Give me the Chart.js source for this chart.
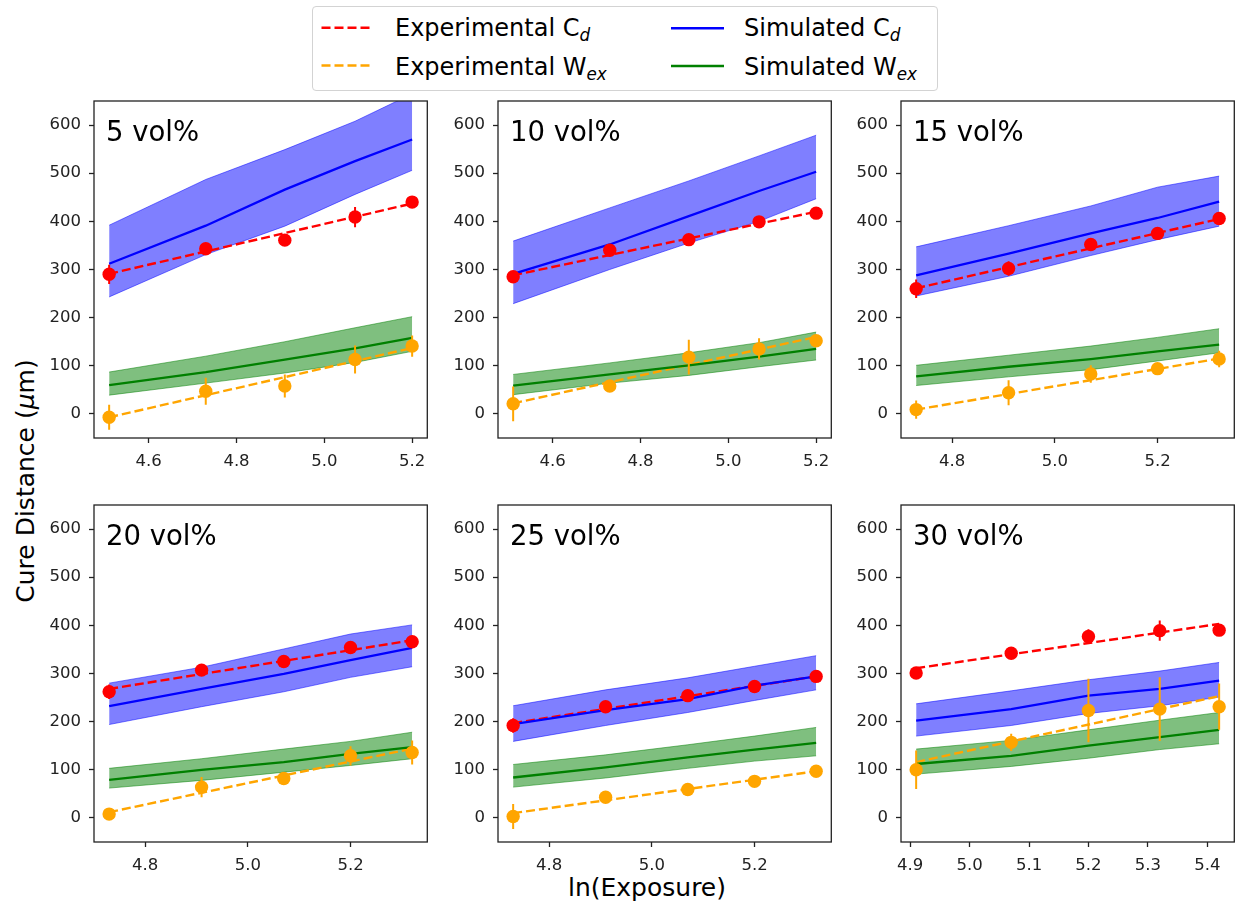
<!DOCTYPE html>
<html>
<head>
<meta charset="utf-8">
<title>Cure distance vs ln(Exposure)</title>
<script src="https://cdn.jsdelivr.net/npm/chart.js@4.4.1/dist/chart.umd.min.js"></script>
<style>
  html, body { margin: 0; padding: 0; background: #fff; overflow: hidden; }
  body { width: 1238px; height: 906px; position: relative; font-family: "DejaVu Sans", sans-serif; color: #000; }
  canvas { position: absolute; }
  .legend-box { position: absolute; left: 312px; top: 6px; width: 626px; height: 85px; box-sizing: border-box;
                border: 1px solid #d3d3d3; border-radius: 4px; background: #fff; }
  .lg-text { position: absolute; font-size: 24px; line-height: 24px; white-space: nowrap; }
  .lg-text sub { font-size: 70%; font-style: italic; vertical-align: -4.5px; line-height: 0; }
  svg.lg-line { position: absolute; left: 0; top: 0; overflow: visible; }
  .axis-title { position: absolute; font-size: 25px; line-height: 25px; white-space: nowrap; }
</style>
</head>
<body>

<div class="legend-box"></div>
<svg class="lg-line" width="1238" height="100">
  <line x1="321.5" y1="27.7" x2="371" y2="27.7" stroke="#ff0000" stroke-width="2.4" stroke-dasharray="9 4"/>
  <line x1="321.5" y1="65.5" x2="371" y2="65.5" stroke="#ffa500" stroke-width="2.4" stroke-dasharray="9 4"/>
  <line x1="671" y1="28.3" x2="724" y2="28.3" stroke="#0000ff" stroke-width="2.4"/>
  <line x1="671" y1="66" x2="724" y2="66" stroke="#008000" stroke-width="2.4"/>
</svg>
<div class="lg-text" style="left:395px; top:16.4px;">Experimental C<sub>d</sub></div>
<div class="lg-text" style="left:395px; top:54.7px;">Experimental W<sub>ex</sub></div>
<div class="lg-text" style="left:744px; top:16.4px;">Simulated C<sub>d</sub></div>
<div class="lg-text" style="left:744px; top:54.7px;">Simulated W<sub>ex</sub></div>

<div class="axis-title" style="left:24.5px; top:481px; transform: translate(-50%, -50%) rotate(-90deg);">Cure Distance (<i>μ</i>m)</div>
<div class="axis-title" style="left:647px; top:874.8px; transform: translateX(-50%);">ln(Exposure)</div>

<script>
// ---- data: one entry per panel (5, 10, 15, 20, 25, 30 vol%) ----
const panelLabels = ['5 vol%', '10 vol%', '15 vol%', '20 vol%', '25 vol%', '30 vol%'];

const lnExposure = [
  [4.51, 4.73, 4.91, 5.07, 5.20],
  [4.51, 4.73, 4.91, 5.07, 5.20],
  [4.73, 4.91, 5.07, 5.20, 5.32],
  [4.73, 4.91, 5.07, 5.20, 5.32],
  [4.73, 4.91, 5.07, 5.20, 5.32],
  [4.91, 5.07, 5.20, 5.32, 5.42]
];

// experimental cure depth C_d (µm) and its error
const cdExperimental = [
  [290, 343, 361, 409, 440],
  [285, 340, 362, 399, 417],
  [260, 302, 352, 375, 406],
  [262, 307, 325, 354, 366],
  [192, 231, 254, 273, 294],
  [301, 342, 377, 389, 390]
];
const cdExperimentalErr = [
  [20, 8, 8, 21, 8],
  [6, 6, 6, 6, 6],
  [19, 15, 6, 12, 6],
  [15, 6, 6, 6, 6],
  [15, 6, 6, 6, 6],
  [6, 6, 15, 21, 6]
];

// experimental excess width W_ex (µm) and its error
const wexExperimental = [
  [-7, 47, 58, 113, 141],
  [21, 58, 118, 135, 152],
  [9, 44, 83, 94, 114],
  [8, 64, 82, 129, 136],
  [3, 43, 59, 76, 97],
  [100, 157, 223, 226, 231]
];
const wexExperimentalErr = [
  [26, 28, 24, 29, 22],
  [36, 5, 36, 22, 5],
  [19, 26, 18, 12, 17],
  [5, 21, 5, 20, 25],
  [26, 12, 5, 5, 5],
  [40, 18, 66, 66, 48]
];

// dashed trend lines: value at the first and at the last exposure
const cdTrend  = [[291, 437], [288, 420], [261, 405], [268, 369], [197, 294], [311, 403]];
const wexTrend = [[-7, 137], [22, 160], [9, 115], [12, 144], [10, 97], [116, 253]];

// simulated C_d: mean with lower / upper bound
const cdSimulated = [
  [312, 391, 466, 525, 570],
  [291, 352, 411, 463, 503],
  [288, 333, 375, 407, 441],
  [232, 268, 299, 328, 353],
  [195, 224, 247, 275, 294],
  [202, 226, 254, 268, 285]
];
const cdSimulatedLow = [
  [243, 331, 390, 456, 506],
  [229, 300, 355, 400, 447],
  [245, 286, 329, 362, 390],
  [194, 231, 262, 292, 314],
  [159, 192, 219, 244, 266],
  [170, 192, 217, 233, 251]
];
const cdSimulatedHigh = [
  [392, 487, 549, 608, 665],
  [359, 428, 484, 536, 579],
  [347, 391, 432, 471, 494],
  [280, 313, 351, 382, 401],
  [233, 266, 291, 315, 337],
  [237, 264, 287, 305, 323]
];

// simulated W_ex: mean with lower / upper bound
const wexSimulated = [
  [60, 87, 113, 136, 158],
  [59, 82, 101, 119, 135],
  [78, 98, 114, 130, 144],
  [79, 100, 116, 133, 147],
  [84, 105, 126, 142, 156],
  [112, 129, 150, 168, 183]
];
const wexSimulatedLow = [
  [39, 64, 85, 107, 130],
  [40, 64, 80, 98, 112],
  [59, 77, 92, 110, 127],
  [62, 78, 95, 109, 123],
  [64, 83, 103, 118, 129],
  [91, 107, 124, 142, 154]
];
const wexSimulatedHigh = [
  [87, 120, 150, 179, 202],
  [82, 106, 127, 148, 170],
  [101, 122, 141, 159, 177],
  [103, 123, 143, 159, 178],
  [111, 131, 152, 170, 188],
  [143, 161, 183, 203, 219]
];

// axis ticks
const yTickValues = [0, 100, 200, 300, 400, 500, 600];
const yRange = [-50, 650];
const xTickValues = [
  [4.6, 4.8, 5.0, 5.2],
  [4.6, 4.8, 5.0, 5.2],
  [4.8, 5.0, 5.2],
  [4.8, 5.0, 5.2],
  [4.8, 5.0, 5.2],
  [4.9, 5.0, 5.1, 5.2, 5.3, 5.4]
];

// ---- layout ----
const PLOT_W = 336, PLOT_H = 337;
const AXIS_W = 60, AXIS_H = 45, PAD_T = 10, PAD_R = 4;
const panelOrigins = [[94, 101], [498, 101], [901, 101], [94, 505], [498, 505], [901, 505]];

const COLORS = {
  cdExp: '#ff0000', wexExp: '#ffa500',
  cdSim: '#0000ff', wexSim: '#008000',
  cdBand: 'rgba(0, 0, 255, 0.5)', wexBand: 'rgba(0, 128, 0, 0.5)'
};
const FONT = '"DejaVu Sans", sans-serif';
Chart.defaults.font.family = FONT;

const toPoints = (xs, ys) => xs.map((x, i) => ({ x: x, y: ys[i] }));
const errorSegments = (xs, ys, es) =>
  xs.flatMap((x, i) => [{ x: x, y: ys[i] - es[i] }, { x: x, y: ys[i] + es[i] }, { x: x, y: null }]);
const endPoints = (xs, ends) => [{ x: xs[0], y: ends[0] }, { x: xs[xs.length - 1], y: ends[1] }];

// frame around the plot area plus the panel label in the upper left corner
const panelFrame = {
  id: 'panelFrame',
  afterDatasetsDraw(chart, args, opts) {
    const a = chart.chartArea, ctx = chart.ctx;
    ctx.save();
    ctx.strokeStyle = '#222';
    ctx.lineWidth = 1.3;
    ctx.strokeRect(a.left, a.top, a.right - a.left, a.bottom - a.top);
    ctx.fillStyle = '#000';
    ctx.font = '27.5px ' + FONT;
    ctx.textBaseline = 'alphabetic';
    ctx.textAlign = 'left';
    ctx.fillText(opts.label, a.left + 12, a.top + 40);
    ctx.restore();
  }
};

function bandPair(xs, low, high, color) {
  return [
    { data: toPoints(xs, low), borderColor: color, borderWidth: 1, pointRadius: 0, fill: false, order: 10 },
    { data: toPoints(xs, high), borderColor: color, borderWidth: 1, pointRadius: 0,
      fill: '-1', backgroundColor: color, order: 10 }
  ];
}

function buildPanel(i) {
  const xs = lnExposure[i];
  const span = xs[xs.length - 1] - xs[0];
  const xMin = xs[0] - 0.05 * span, xMax = xs[xs.length - 1] + 0.05 * span;

  const canvas = document.createElement('canvas');
  canvas.width = AXIS_W + PLOT_W + PAD_R;
  canvas.height = PAD_T + PLOT_H + AXIS_H;
  canvas.style.left = (panelOrigins[i][0] - AXIS_W) + 'px';
  canvas.style.top = (panelOrigins[i][1] - PAD_T) + 'px';
  document.body.appendChild(canvas);

  const datasets = [
    ...bandPair(xs, cdSimulatedLow[i], cdSimulatedHigh[i], COLORS.cdBand),
    ...bandPair(xs, wexSimulatedLow[i], wexSimulatedHigh[i], COLORS.wexBand),
    { data: toPoints(xs, cdSimulated[i]), borderColor: COLORS.cdSim, borderWidth: 2.3, pointRadius: 0, fill: false, order: 5 },
    { data: toPoints(xs, wexSimulated[i]), borderColor: COLORS.wexSim, borderWidth: 2.3, pointRadius: 0, fill: false, order: 5 },
    { data: endPoints(xs, cdTrend[i]), borderColor: COLORS.cdExp, borderWidth: 2.4, borderDash: [9, 4], pointRadius: 0, fill: false, order: 6 },
    { data: endPoints(xs, wexTrend[i]), borderColor: COLORS.wexExp, borderWidth: 2.4, borderDash: [9, 4], pointRadius: 0, fill: false, order: 6 },
    { data: errorSegments(xs, cdExperimental[i], cdExperimentalErr[i]), borderColor: COLORS.cdExp, borderWidth: 2,
      pointRadius: 0, spanGaps: false, fill: false, order: 2 },
    { data: errorSegments(xs, wexExperimental[i], wexExperimentalErr[i]), borderColor: COLORS.wexExp, borderWidth: 2,
      pointRadius: 0, spanGaps: false, fill: false, order: 2 },
    { data: toPoints(xs, cdExperimental[i]), showLine: false, pointRadius: 6.7, pointBorderWidth: 0,
      pointBackgroundColor: COLORS.cdExp, pointBorderColor: COLORS.cdExp, order: 1 },
    { data: toPoints(xs, wexExperimental[i]), showLine: false, pointRadius: 6.7, pointBorderWidth: 0,
      pointBackgroundColor: COLORS.wexExp, pointBorderColor: COLORS.wexExp, order: 1 }
  ];

  const tickGrid = { drawOnChartArea: false, drawTicks: true, tickLength: 5, tickColor: '#222', tickWidth: 1.3 };

  new Chart(canvas, {
    type: 'line',
    data: { datasets: datasets },
    options: {
      responsive: false,
      animation: false,
      events: [],
      layout: { padding: { left: 0, right: PAD_R, top: PAD_T, bottom: 0 } },
      elements: { line: { tension: 0 } },
      plugins: {
        legend: { display: false },
        tooltip: { enabled: false },
        panelFrame: { label: panelLabels[i] }
      },
      scales: {
        x: {
          type: 'linear', min: xMin, max: xMax,
          afterBuildTicks: s => { s.ticks = xTickValues[i].map(v => ({ value: v })); },
          afterFit: s => { s.height = AXIS_H; s.paddingLeft = 0; s.paddingRight = 0; },
          ticks: { autoSkip: false, maxRotation: 0, minRotation: 0, padding: 8.5, color: '#222',
                   font: { size: 16.5 }, callback: v => Number(v).toFixed(1) },
          grid: tickGrid,
          border: { display: false }
        },
        y: {
          type: 'linear', min: yRange[0], max: yRange[1],
          afterBuildTicks: s => { s.ticks = yTickValues.map(v => ({ value: v })); },
          afterFit: s => { s.width = AXIS_W; s.paddingTop = 0; s.paddingBottom = 0; },
          ticks: { padding: 8, color: '#222', font: { size: 16.5 }, callback: v => String(v) },
          grid: tickGrid,
          border: { display: false }
        }
      }
    },
    plugins: [panelFrame]
  });
}

for (let i = 0; i < panelLabels.length; i++) buildPanel(i);
</script>
</body>
</html>
